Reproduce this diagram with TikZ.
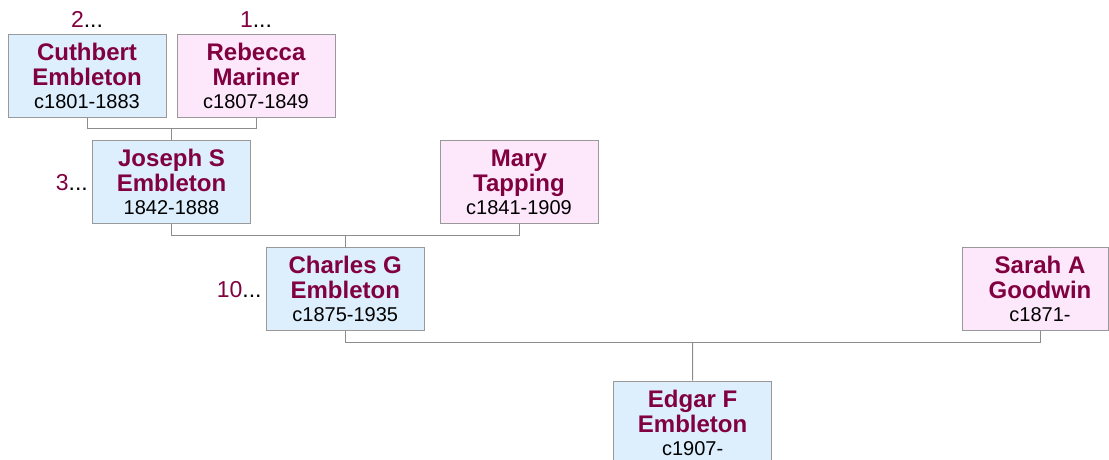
\documentclass[tikz,border=0pt]{standalone}
\usepackage{fontspec}
\setmainfont{Liberation Sans}
\usetikzlibrary{calc}
\definecolor{maleFill}{HTML}{DDEEFD}
\definecolor{femaleFill}{HTML}{FDE7FB}
\definecolor{boxLine}{HTML}{999999}
\definecolor{linkCol}{HTML}{8C8C8C}
\definecolor{nameCol}{HTML}{800040}
\newcommand{\pname}[1]{{\fontsize{24}{25}\selectfont\bfseries\color{nameCol}#1}}
\newcommand{\pdate}[1]{{\fontsize{20}{23}\selectfont #1}}
\newcommand{\pmore}[1]{\textcolor{nameCol}{#1}...}
\begin{document}
\begin{tikzpicture}[x=1pt,y=-1pt,
  person/.style={draw=boxLine, line width=1pt, minimum width=158pt, minimum height=83pt,
    inner sep=0pt, align=center, font=\fontsize{20}{24}\selectfont},
  male/.style={person, fill=maleFill},
  female/.style={person, fill=femaleFill},
  link/.style={draw=linkCol, line width=1pt},
  more/.style={font=\fontsize{23}{26}\selectfont, inner sep=0pt}]
\useasboundingbox (0,0) rectangle (1109,459);

\node[male]   (cuth)    at (87,75.5)   {\pname{Cuthbert}\\[1pt]\pname{Embleton}\\[-1pt]\pdate{c1801-1883}};
\node[female] (rebecca) at (256,75.5)  {\pname{Rebecca}\\[1pt]\pname{Mariner}\\[-1pt]\pdate{c1807-1849}};
\node[male]   (joseph)  at (171.5,182) {\pname{Joseph S}\\[1pt]\pname{Embleton}\\[-1pt]\pdate{1842-1888}};
\node[female] (mary)    at (519,182)   {\pname{Mary}\\[1pt]\pname{Tapping}\\[-1pt]\pdate{c1841-1909}};
\node[male]   (charles) at (345.25,289) {\pname{Charles G}\\[1pt]\pname{Embleton}\\[-1pt]\pdate{c1875-1935}};
\node[female, minimum width=146pt] (sarah) at (1035,289)
  {\hspace*{10pt}\pname{Sarah A}\\[1pt]\hspace*{10pt}\pname{Goodwin}\\[-1pt]\hspace*{10pt}\pdate{c1871-}};
\node[male]   (edgar)   at (692.6,422.5) {\pname{Edgar F}\\[1pt]\pname{Embleton}\\[-1pt]\pdate{c1907-}};

\node[more, anchor=base] (m2) at ($(cuth.north)+(0,-6)$) {\pmore{2}};
\node[more, anchor=base] (m1) at ($(rebecca.north)+(0,-6)$) {\pmore{1}};
\node[more, anchor=base east] (m3) at ($(joseph.west)+(-4,8)$) {\pmore{3}};
\node[more, anchor=base east] (m10) at ($(charles.west)+(-4,8)$) {\pmore{10}};

\coordinate (j1) at ($(cuth.south)!0.5!(rebecca.south)+(0,11)$);
\draw[link] (cuth.south) -- ++(0,11) -| (rebecca.south);
\draw[link] (j1) -- (joseph.north);

\coordinate (j2) at ($(joseph.south)!0.5!(mary.south)+(0,11)$);
\draw[link] (joseph.south) -- ++(0,11) -| (mary.south);
\draw[link] (j2) -- (charles.north);

\coordinate (sarahfoot) at ($(sarah.south)+(5,0)$);
\coordinate (j3) at ($(charles.south)!0.5!(sarahfoot)+(0,11)$);
\draw[link] (charles.south) -- ++(0,11) -| (sarahfoot);
\draw[link] (j3) -- (edgar.north);
\end{tikzpicture}
\end{document}
